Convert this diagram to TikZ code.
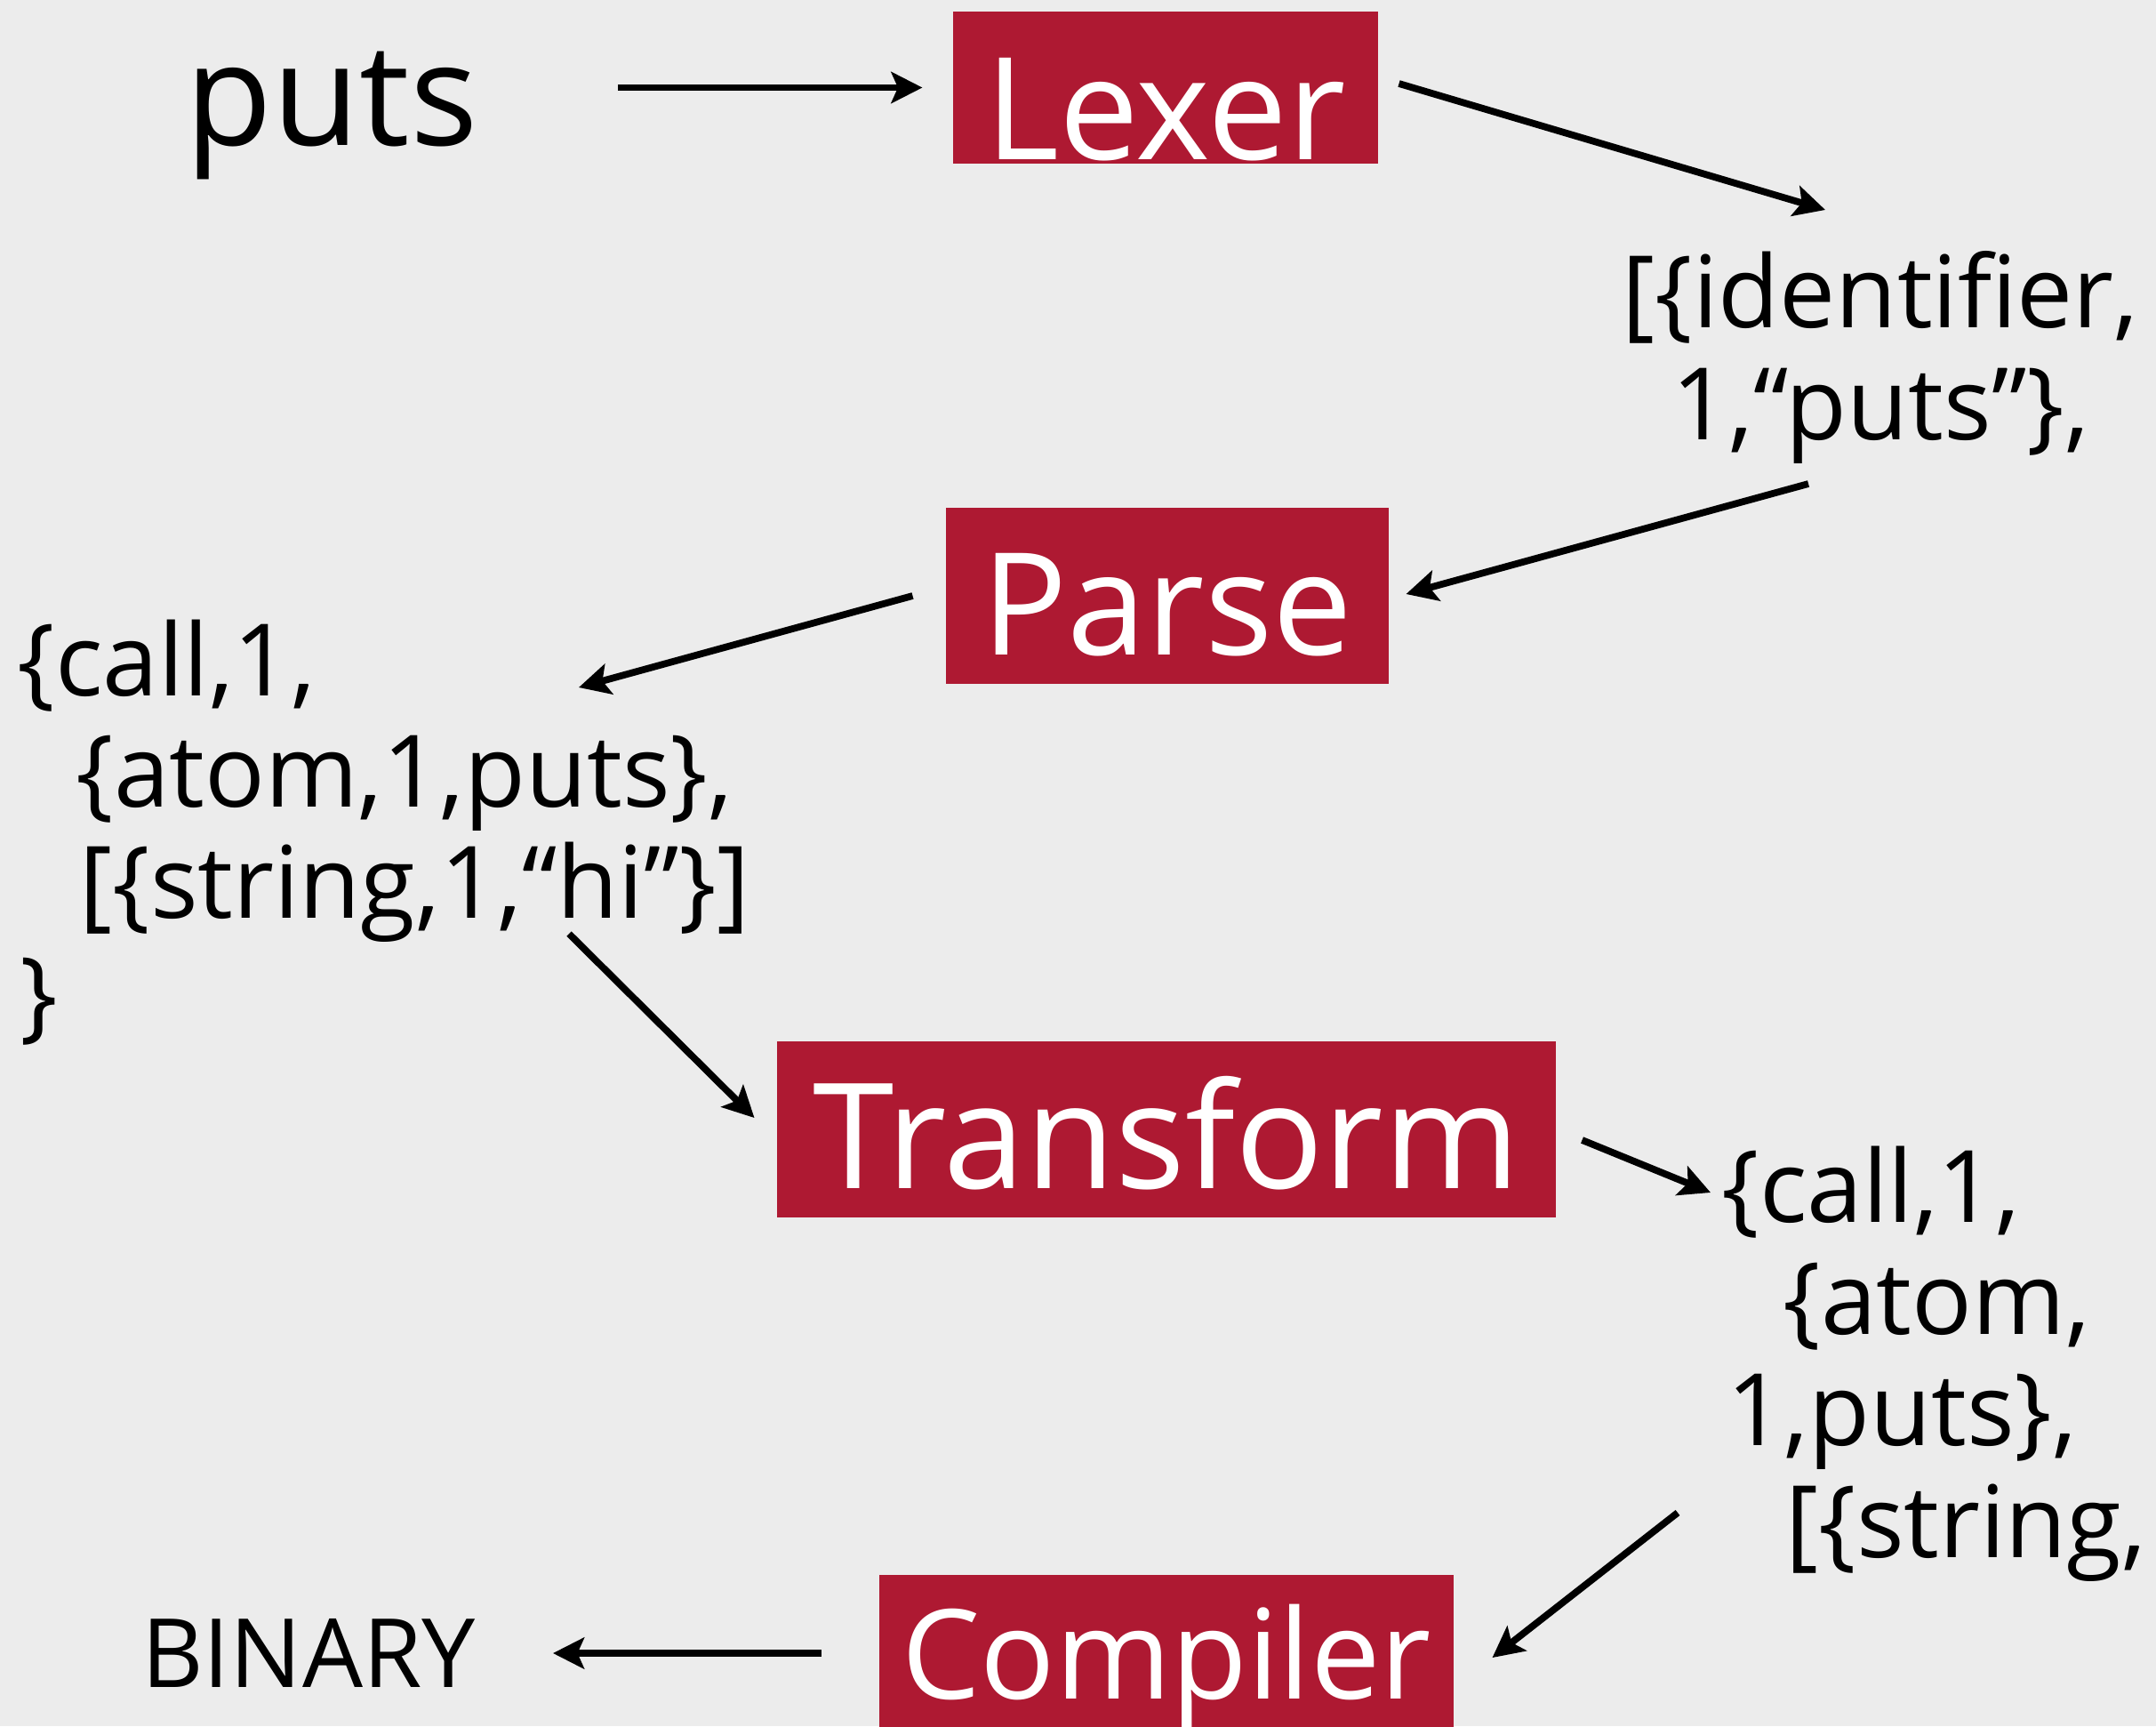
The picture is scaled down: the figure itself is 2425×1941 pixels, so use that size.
\documentclass[tikz,border=0pt]{standalone}
\usepackage{fontspec}
\setmainfont{Open Sans}
\usetikzlibrary{arrows.meta,calc}
\definecolor{bgc}{HTML}{ECECEC}
\definecolor{redbox}{HTML}{AE1932}
\begin{document}
\begin{tikzpicture}[x=0.4pt,y=-0.4pt,
  stage/.style={fill=redbox, text=white, inner sep=0pt, font=\fontsize{64}{70}\selectfont, text depth=0pt},
  code/.style={inner sep=0pt, font=\fontsize{45}{50}\selectfont},
  bigtext/.style={inner sep=0pt, font=\fontsize{64}{70}\selectfont},
  arr/.style={-{Stealth[length=14pt,width=14pt,inset=3pt]}, line width=3.1pt},
]
\fill[bgc] (0,0) rectangle (2425,1941);
\useasboundingbox (0,0) rectangle (2425,1941);

% stages
\node[stage, minimum width=191.2pt, minimum height=68.4pt, text height=64.4pt] (lexer) at (1311,98.5) {Lexer};
\node[stage, minimum width=199.2pt, minimum height=79.2pt, text height=52.8pt] (parse) at (1313,670) {Parse};
\node[stage, minimum width=350.4pt, minimum height=79.2pt, text height=52.8pt, font=\fontsize{66}{72}\selectfont] (transform) at (1312,1270) {Transform};
\node[stage, minimum width=258.4pt, minimum height=79.2pt, text height=32pt, font=\fontsize{56}{62}\selectfont] (compiler) at (1312,1870) {Compiler};

% texts
\node[bigtext, anchor=base] (puts) at (373,163) {puts};
\node[code, anchor=base] (tokA) at (2115,368) {[\{identifier,};
\node[code, anchor=base] (tokB) at (2115,494) {1,“puts”\},};

\node[code, anchor=base west] (pa1) at (19,782) {\{call,1,};
\node[code, anchor=base west] (pa2) at (85,907) {\{atom,1,puts\},};
\node[code, anchor=base west] (pa3) at (89,1032) {[\{string,1,“hi”\}]};
\node[code, anchor=base west] (pa4) at (22,1157) {\}};

\node[code, anchor=base west] (tr1) at (1936,1374) {\{call,1,};
\node[code, anchor=base west] (tr2) at (2005,1500) {\{atom,};
\node[code, anchor=base west] (tr3) at (1942,1625) {1,puts\},};
\node[code, anchor=base west] (tr4) at (2008,1751) {[\{string,};

\node[inner sep=0pt, font=\fontsize{43}{48}\selectfont, anchor=base] (binary) at (347,1897) {BINARY};

% connectors
\draw[arr] ($(puts.east |- lexer.west)+(157,0)$) -- ($(lexer.west)+(-34,0)$);
\draw[arr] ($(lexer.east)+(23,-4.5)$) -- ($(tokA.base)+(-62,-132)$);
\draw[arr] ($(tokB.base)+(-81,50)$) -- ($(parse.east)+(19,-2)$);
\draw[arr] ($(parse.west)+(-37,0)$) -- ($(pa1.base west)+(632,-9)$);
\draw[arr] ($(pa3.base west)+(551,18)$) -- ($(transform.west)+(-25,-13)$);
\draw[arr] ($(transform.east)+(29,12)$) -- ($(tr1.base west)+(-12,-33)$);
\draw[arr] ($(tr4.base west)+(-121,-50)$) -- ($(compiler.east)+(43,-6)$);
\draw[arr] ($(compiler.west)+(-65,-11)$) -- ($(binary.base)+(275,-38)$);
\end{tikzpicture}
\end{document}
